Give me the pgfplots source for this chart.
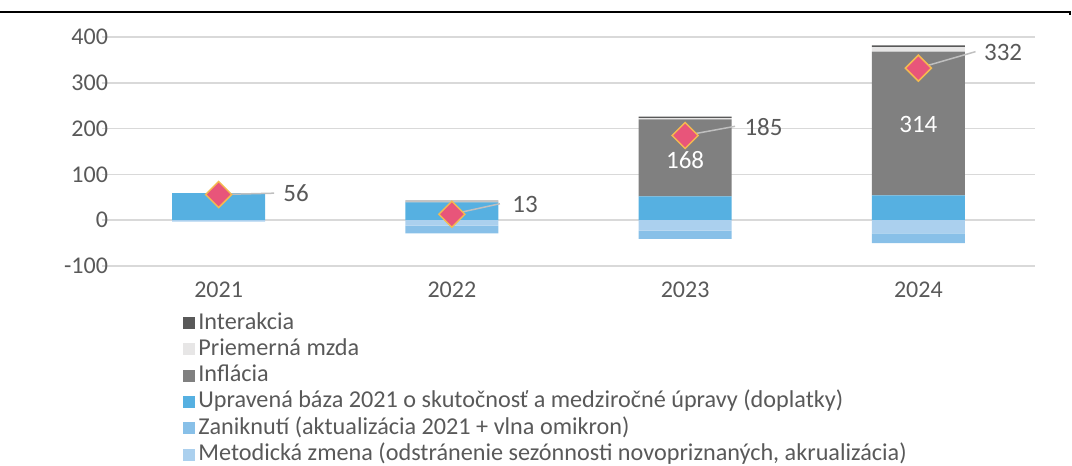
\documentclass[border=0pt]{standalone}
\usepackage{fontspec}
\setmainfont{Carlito}
\usepackage{pgfplots}
\pgfplotsset{compat=1.18}
\definecolor{txt}{HTML}{595959}
\definecolor{gridc}{HTML}{D9D9D9}
\definecolor{inter}{HTML}{595959}
\definecolor{mzda}{HTML}{E7E6E6}
\definecolor{infl}{HTML}{808080}
\definecolor{uprav}{HTML}{56B0E1}
\definecolor{zanik}{HTML}{88C0E8}
\definecolor{metod}{HTML}{ABD0EE}
\definecolor{dia}{HTML}{E8557A}
\definecolor{diaedge}{HTML}{F4B950}
\definecolor{lead}{HTML}{BFBFBF}
\pgfplotsset{
  sq/.style={fill=#1, draw=none,
    legend image code/.code={\fill[##1] (0pt,-3pt) rectangle (6pt,3pt);}},
  frame/.style={at={(0,0)}, anchor=south west, scale only axis,
    width=466.5pt, height=114.5pt,
    xmin=-0.5, xmax=3.5, ymin=-100, ymax=400},
}
\begin{document}
\begin{tikzpicture}
\useasboundingbox (-51pt,-100pt) rectangle (485pt,133pt);
\draw[line width=1pt] (-51pt,127pt) -- (484pt,127pt) -- (484pt,125.5pt);
% positive parts
\begin{axis}[
  frame,
  ybar stacked, bar width=46.5pt,
  xtick={0,1,2,3}, xticklabels={2021,2022,2023,2024},
  ytick={-100,0,100,200,300,400},
  yticklabels={-100,0,100,200,300,400},
  ymajorgrids, grid style={draw=gridc, line width=0.8pt},
  axis line style={draw=none}, major tick length=0pt,
  tick label style={font=\fontsize{12}{14}\selectfont, text=txt},
  yticklabel style={xshift=6.5pt},
  xticklabel style={yshift=-4.5pt},
  reverse legend,
  legend style={at={(0.0868,-0.19)}, anchor=north west, draw=none, fill=none,
    inner sep=0pt, row sep=0pt, legend cell align=left,
    font=\fontsize{12.1}{13}\selectfont, text=txt,
    nodes={inner xsep=1.5pt, inner ysep=0.75pt, text height=8.8pt, text depth=2.85pt}},
]
\addlegendimage{sq=metod}
\addlegendentry{Metodická zmena (odstránenie sezónnosti novopriznaných, akrualizácia)}
\addlegendimage{sq=zanik}
\addlegendentry{Zaniknutí (aktualizácia 2021 + vlna omikron)}
\addplot[sq=uprav] coordinates {(0,59) (1,39) (2,52) (3,54)};
\addlegendentry{Upravená báza 2021 o skutočnosť a medziročné úpravy (doplatky)}
\addplot[sq=infl] coordinates {(0,0) (1,1.5) (2,168) (3,314)};
\addlegendentry{Inflácia}
\addplot[sq=mzda] coordinates {(0,0) (1,1) (2,3) (3,10)};
\addlegendentry{Priemerná mzda}
\addplot[sq=inter] coordinates {(0,0) (1,1) (2,3) (3,4)};
\addlegendentry{Interakcia}
\end{axis}
% negative parts
\begin{axis}[frame, hide axis, ybar stacked, bar width=46.5pt]
\addplot[sq=metod] coordinates {(0,-3) (1,-12) (2,-23) (3,-29)};
\addplot[sq=zanik] coordinates {(0,0) (1,-17) (2,-18) (3,-21)};
\end{axis}
% totals and labels
\begin{axis}[frame, hide axis, clip=false]
\node[text=white, font=\fontsize{12.5}{14}\selectfont] at (axis cs:2,131) {168};
\node[text=white, font=\fontsize{12.5}{14}\selectfont] at (axis cs:3,208) {314};
\addplot[only marks, mark=square*, mark size=4.6pt,
  mark options={rotate=45, fill=dia, draw=diaedge, line width=0.75pt}]
  coordinates {(0,56) (1,13) (2,185) (3,332)};
\begin{scope}[every node/.style={anchor=west, inner sep=0pt, text=txt,
    font=\fontsize{12.5}{14}\selectfont}]
\draw[lead, line width=0.75pt] (axis cs:0,56) -- (axis cs:0.238,59);
\node at (axis cs:0.276,59) {56};
\draw[lead, line width=0.75pt] (axis cs:1,13) -- (axis cs:1.206,36);
\node at (axis cs:1.258,35) {13};
\draw[lead, line width=0.75pt] (axis cs:2,185) -- (axis cs:2.214,205);
\node at (axis cs:2.253,203) {185};
\draw[lead, line width=0.75pt] (axis cs:3,332) -- (axis cs:3.245,368);
\node at (axis cs:3.28,366) {332};
\end{scope}
\end{axis}
\end{tikzpicture}
\end{document}
